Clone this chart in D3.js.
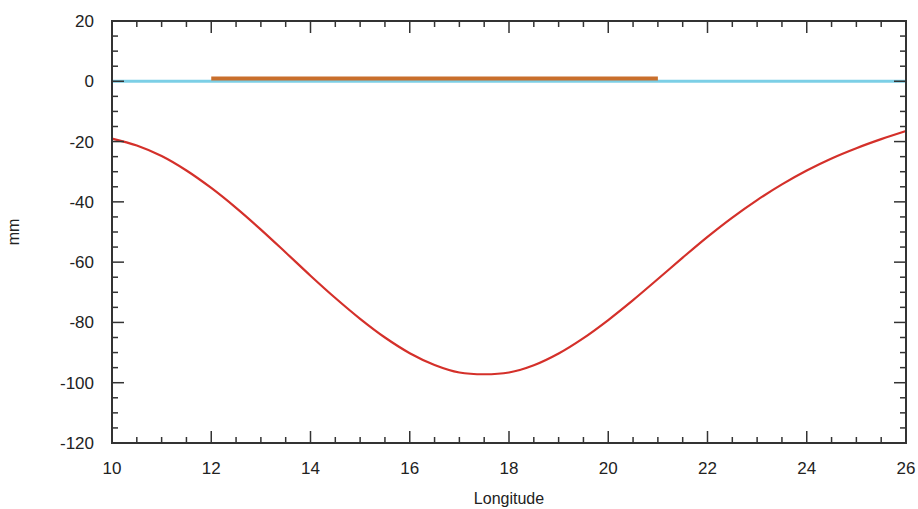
<!DOCTYPE html>
<html>
<head>
<meta charset="utf-8">
<script src="https://cdn.jsdelivr.net/npm/d3@7"></script>
<style>
  body { margin: 0; background: #fff; }
  text { font-family: "Liberation Sans", Arial, sans-serif; fill: #222; }
</style>
</head>
<body>
<div id="chart"></div>
<script>
var width = 918;
var height = 509;
var margin = { top: 21, right: 12, bottom: 66, left: 112 };

// red curve
var lon = [10, 10.5, 11, 11.5, 12, 12.5, 13, 13.5, 14, 14.5, 15, 15.5, 16, 16.5, 17, 17.5,
           18, 18.5, 19, 19.5, 20, 20.5, 21, 21.5, 22, 22.5, 23, 23.5, 24, 24.5, 25, 25.5, 26];
var mm = [-19, -21.3, -24.8, -29.6, -35.4, -42, -49.2, -56.8, -64.5, -71.9, -78.8, -85, -90.2, -94.1, -96.6, -97.2,
          -96.6, -94.2, -90.3, -85.2, -79.2, -72.6, -65.6, -58.5, -51.6, -45.2, -39.4, -34.2, -29.6, -25.6, -22.2, -19.2, -16.5];

// flat lines
var blueX = [10, 26];
var blueY = [0, 0];
var orangeX = [12, 21];
var orangeY = [0.9, 0.9];

var xTicks = [10, 12, 14, 16, 18, 20, 22, 24, 26];
var yTicks = [20, 0, -20, -40, -60, -80, -100, -120];

var w = width - margin.left - margin.right;
var h = height - margin.top - margin.bottom;

var svg = d3.select("#chart").append("svg")
  .attr("width", width).attr("height", height);
var g = svg.append("g").attr("transform", `translate(${margin.left}, ${margin.top})`);

var x = d3.scaleLinear().domain([10, 26]).range([0, w]);
var y = d3.scaleLinear().domain([-120, 20]).range([h, 0]);

var line = d3.line().x(d => x(d[0])).y(d => y(d[1])).curve(d3.curveCatmullRom);

/* data */
g.append("path")
  .attr("d", line(blueX.map((v, i) => [v, blueY[i]])))
  .attr("fill", "none").attr("stroke", "#7ccfe6").attr("stroke-width", 3);

g.append("path")
  .attr("d", line(orangeX.map((v, i) => [v, orangeY[i]])))
  .attr("fill", "none").attr("stroke", "#c96f2c").attr("stroke-width", 4);

g.append("path")
  .attr("d", line(lon.map((v, i) => [v, mm[i]])))
  .attr("fill", "none").attr("stroke", "#d4302a").attr("stroke-width", 2.2);

/* axes and ticks (inward, mirrored) */
var axisColor = "#333";
var majorLen = 12, minorLen = 6;
var xMinor = d3.range(10, 26.01, 0.5).filter(v => v % 2 !== 0);
var yMinor = d3.range(-120, 20.01, 5).filter(v => v % 20 !== 0);

var ticks = g.append("g").attr("stroke", axisColor).attr("stroke-width", 1.5);

function xTick(v, len) {
  ticks.append("line").attr("x1", x(v)).attr("x2", x(v)).attr("y1", h).attr("y2", h - len);
  ticks.append("line").attr("x1", x(v)).attr("x2", x(v)).attr("y1", 0).attr("y2", len);
}
function yTick(v, len) {
  ticks.append("line").attr("y1", y(v)).attr("y2", y(v)).attr("x1", 0).attr("x2", len);
  ticks.append("line").attr("y1", y(v)).attr("y2", y(v)).attr("x1", w).attr("x2", w - len);
}
xTicks.forEach(v => xTick(v, majorLen));
xMinor.forEach(v => xTick(v, minorLen));
yTicks.forEach(v => yTick(v, majorLen));
yMinor.forEach(v => yTick(v, minorLen));

g.append("rect")
  .attr("width", w).attr("height", h)
  .attr("fill", "none").attr("stroke", axisColor).attr("stroke-width", 2);

/* labels */
g.selectAll(".xlab").data(xTicks).enter().append("text")
  .attr("x", d => x(d)).attr("y", h + 31)
  .attr("text-anchor", "middle").attr("font-size", 17)
  .text(d => d);

g.selectAll(".ylab").data(yTicks).enter().append("text")
  .attr("x", -18).attr("y", d => y(d)).attr("dy", "0.35em")
  .attr("text-anchor", "end").attr("font-size", 17)
  .text(d => d);

g.append("text")
  .attr("x", w / 2).attr("y", h + 61)
  .attr("text-anchor", "middle").attr("font-size", 16)
  .text("Longitude");

g.append("text")
  .attr("transform", `translate(${-93}, ${h / 2}) rotate(-90)`)
  .attr("text-anchor", "middle").attr("font-size", 16)
  .text("mm");
</script>
</body>
</html>
